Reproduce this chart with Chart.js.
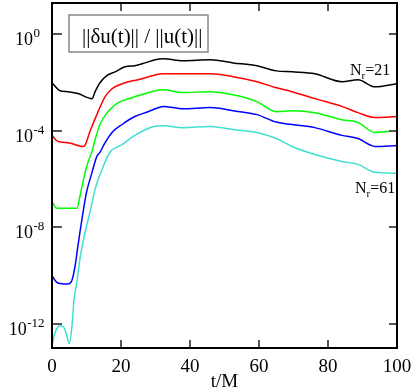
<!DOCTYPE html>
<html>
<head>
<meta charset="utf-8">
<script src="https://cdn.jsdelivr.net/npm/chart.js@4"></script>
<style>
html, body { margin: 0; padding: 0; background: #fff; }
</style>
</head>
<body>
<canvas id="canvas" width="415" height="389"></canvas>
<script>
// t/M values and ||du||/||u|| for each resolution
var tN21 = [0, 2.3, 4.6, 7.5, 11.6, 12.5, 13.9, 15.9, 18.3, 21.2, 24, 27, 29.9, 32.2, 38, 45.8, 52.5, 59.4, 65, 69.6, 76.2, 84, 88.7, 93.6, 100];
var errN21 = [9.55e-3, 4.47e-3, 4.07e-3, 3.39e-3, 2.09e-3, 4.07e-3, 9.55e-3, 1.86e-2, 2.69e-2, 4.37e-2, 4.79e-2, 6.31e-2, 8.51e-2, 9.33e-2, 7.76e-2, 8.51e-2, 6.31e-2, 4.79e-2, 2.95e-2, 2.69e-2, 2.24e-2, 1.05e-2, 1.26e-2, 6.46e-3, 8.71e-3];

var tRed = [0, 1.7, 4.6, 9, 9.6, 11, 13, 15.4, 17.4, 21.2, 24.9, 29.9, 32.2, 38, 45.8, 52.5, 59.4, 65, 69.6, 76.2, 84, 88.7, 93.6, 100];
var errRed = [6.31e-5, 3.55e-5, 3.16e-5, 2.19e-5, 2.51e-5, 9.12e-5, 4.57e-4, 2.51e-3, 5.37e-3, 9.55e-3, 1.26e-2, 2.0e-2, 2.24e-2, 2.24e-2, 2.24e-2, 1.70e-2, 1.05e-2, 5.89e-3, 4.07e-3, 2.09e-3, 1.0e-3, 5.50e-4, 3.47e-4, 3.80e-4];

var tGreen = [0, 1.4, 7.2, 8.1, 8.7, 9.6, 10.4, 11.6, 12.5, 13.9, 16.2, 19.1, 23.2, 27, 29.9, 32.2, 38, 45.8, 52.5, 59.4, 65, 69.6, 76.2, 84, 88.7, 93.6, 100];
var errGreen = [1.17e-7, 6.03e-8, 6.03e-8, 1.91e-7, 4.90e-7, 1.86e-6, 4.79e-6, 1.35e-5, 4.27e-5, 1.78e-4, 6.03e-4, 1.41e-3, 2.29e-3, 3.39e-3, 4.47e-3, 4.90e-3, 3.72e-3, 4.07e-3, 3.02e-3, 1.58e-3, 6.03e-4, 6.61e-4, 5.50e-4, 2.82e-4, 2.14e-4, 8.32e-5, 1.0e-4];

var tBlue = [0, 1.7, 4.6, 5.7, 6.7, 7.3, 8.1, 9, 10, 11.6, 13, 13.9, 15.4, 17.4, 20.3, 24, 27.8, 29.9, 32.2, 38, 45.8, 52.5, 59.4, 65, 69.6, 76.2, 84, 88.7, 93.6, 100];
var errBlue = [9.55e-11, 4.90e-11, 4.47e-11, 5.89e-11, 2.51e-10, 1.0e-9, 6.31e-9, 4.17e-8, 2.75e-7, 1.86e-6, 8.51e-6, 1.26e-5, 3.16e-5, 8.32e-5, 1.78e-4, 3.80e-4, 6.03e-4, 7.94e-4, 1.0e-3, 7.94e-4, 8.91e-4, 6.61e-4, 4.57e-4, 2.24e-4, 1.78e-4, 1.32e-4, 6.31e-5, 4.68e-5, 2.19e-5, 2.40e-5];

var tN61 = [0, 0.8, 2.3, 3.3, 4.2, 5, 5.8, 6.4, 7.2, 8.1, 9.6, 11, 12.5, 14.5, 16.8, 20.3, 24, 29, 32.2, 38, 45.8, 52.5, 59.4, 65, 69.6, 76.2, 84, 88.7, 93.6, 100];
var errN61 = [1.26e-13, 3.98e-13, 8.32e-13, 7.59e-13, 3.55e-13, 1.51e-13, 8.32e-13, 1.07e-11, 5.37e-11, 5.01e-10, 6.31e-9, 4.17e-8, 3.72e-7, 2.45e-6, 1.26e-5, 2.63e-5, 6.31e-5, 1.41e-4, 1.58e-4, 1.32e-4, 1.48e-4, 1.10e-4, 8.32e-5, 4.68e-5, 2.19e-5, 1.02e-5, 5.25e-6, 3.98e-6, 1.86e-6, 1.70e-6];

var xTickVals = [0, 20, 40, 60, 80, 100];
var yTickVals = [1, 1e-4, 1e-8, 1e-12];
var yTickExp = ['0', '-4', '-8', '-12'];

function pts(t, v) {
    return t.map(function (x, i) { return { x: x, y: v[i] }; });
}

function line(label, t, v, color) {
    return {
        label: label,
        data: pts(t, v),
        borderColor: color,
        borderWidth: 1.5,
        pointRadius: 0,
        fill: false,
        cubicInterpolationMode: 'monotone'
    };
}

var serif = "'Liberation Serif', 'DejaVu Serif', serif";

var framePlugin = {
    id: 'frame',
    afterDraw: function (chart) {
        var ctx = chart.ctx, a = chart.chartArea;
        var xs = chart.scales.x, ys = chart.scales.y;
        ctx.save();
        // ticks, inward on all four sides
        ctx.strokeStyle = '#555';
        ctx.lineWidth = 2;
        ctx.beginPath();
        xTickVals.forEach(function (v) {
            var px = Math.round(xs.getPixelForValue(v));
            ctx.moveTo(px, a.bottom); ctx.lineTo(px, a.bottom - 8);
            ctx.moveTo(px, a.top); ctx.lineTo(px, a.top + 8);
        });
        yTickVals.forEach(function (v) {
            var py = Math.round(ys.getPixelForValue(v));
            ctx.moveTo(a.left, py); ctx.lineTo(a.left + 10, py);
            ctx.moveTo(a.right, py); ctx.lineTo(a.right - 8, py);
        });
        ctx.stroke();
        // frame
        ctx.strokeStyle = '#000';
        ctx.lineWidth = 2;
        ctx.strokeRect(a.left, a.top, a.right - a.left, a.bottom - a.top);

        ctx.fillStyle = '#000';
        // x tick labels
        ctx.font = '19px ' + serif;
        ctx.textAlign = 'center';
        ctx.textBaseline = 'alphabetic';
        xTickVals.forEach(function (v) {
            ctx.fillText(String(v), xs.getPixelForValue(v), 372);
        });
        ctx.fillText('t/M', (a.left + a.right) / 2, 387);

        // y tick labels 10^n
        yTickVals.forEach(function (v, i) {
            var py = ys.getPixelForValue(v);
            var e = yTickExp[i];
            ctx.font = '13px ' + serif;
            var ew = ctx.measureText(e).width;
            ctx.font = '18px ' + serif;
            var mw = ctx.measureText('10').width;
            var right = e.length > 2 ? 44 - ew : 33;
            ctx.textAlign = 'left';
            ctx.fillText('10', right - mw, py + 11);
            ctx.font = '13px ' + serif;
            ctx.fillText(e, right + 0.5, py + 3);
        });

        // legend box
        ctx.strokeStyle = '#888';
        ctx.lineWidth = 1.5;
        ctx.strokeRect(69, 15, 139, 37);
        ctx.font = '21px ' + serif;
        ctx.textAlign = 'left';
        ctx.fillText('||\u03b4u(t)|| / ||u(t)||', 82, 43);

        // resolution labels
        function nr(txt, x, y) {
            ctx.font = '16px ' + serif;
            ctx.fillText('N', x, y);
            var w = ctx.measureText('N').width;
            ctx.font = '11px ' + serif;
            ctx.fillText('r', x + w, y + 4);
            var w2 = ctx.measureText('r').width;
            ctx.font = '16px ' + serif;
            ctx.fillText(txt, x + w + w2, y);
        }
        nr('=21', 350, 75);
        nr('=61', 355, 193);
        ctx.restore();
    }
};

new Chart(document.getElementById('canvas'), {
    type: 'line',
    data: {
        datasets: [
            line('Nr=21', tN21, errN21, '#000000'),
            line('red', tRed, errRed, '#ff0000'),
            line('green', tGreen, errGreen, '#00ff00'),
            line('blue', tBlue, errBlue, '#0000ff'),
            line('Nr=61', tN61, errN61, '#40e0d0')
        ]
    },
    options: {
        responsive: false,
        animation: false,
        devicePixelRatio: 1,
        layout: { padding: { left: 0, right: 18, top: 3, bottom: 0 } },
        plugins: { legend: { display: false }, tooltip: { enabled: false } },
        scales: {
            x: {
                type: 'linear', min: 0, max: 100,
                grid: { display: false }, border: { display: false },
                ticks: { display: false },
                afterFit: function (s) { s.height = 41; }
            },
            y: {
                type: 'logarithmic', min: 1e-13, max: 19,
                grid: { display: false }, border: { display: false },
                ticks: { display: false },
                afterBuildTicks: function (s) {
                    s.ticks = yTickVals.map(function (v) { return { value: v }; });
                },
                afterFit: function (s) { s.width = 52; }
            }
        }
    },
    plugins: [framePlugin]
});
</script>
</body>
</html>
